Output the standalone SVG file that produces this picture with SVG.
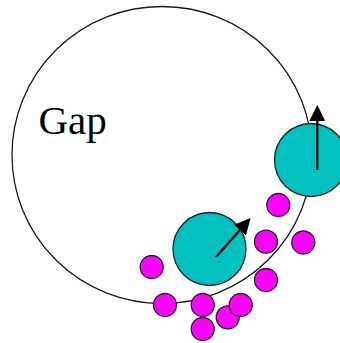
<svg xmlns="http://www.w3.org/2000/svg" width="340" height="343" viewBox="0 0 340 343">
  <style>
    .boundary { fill: none; stroke: #1a1a1a; stroke-width: 1.3; }
    .big { fill: #00C0C0; stroke: #222; stroke-width: 1.3; }
    .small { fill: #FF00FF; stroke: #222; stroke-width: 1.3; }
    .arrow { stroke: #000; stroke-width: 2.2; fill: none; marker-end: url(#head); }
    .label { font-family: "Liberation Serif", "Times New Roman", serif; font-size: 41px; fill: #000; }
  </style>
  <defs>
    <marker id="head" viewBox="0 0 16 16" markerWidth="16" markerHeight="16" refX="0" refY="8" orient="auto" markerUnits="userSpaceOnUse">
      <path d="M0,0 L16,8 L0,16 z" fill="#000"/>
    </marker>
  </defs>
  <rect width="340" height="343" fill="#fff"/>
  <g id="gap-boundary">
    <ellipse class="boundary" cx="162" cy="155" rx="150" ry="148.5"/>
    <text class="label" x="38.5" y="134">Gap</text>
  </g>
  <g id="particle-large-1"><circle class="big" cx="209.5" cy="249" r="36.5"/></g>
  <g id="particle-large-2"><circle class="big" cx="311" cy="160" r="36.5"/></g>
  <g id="particle-small-1"><circle class="small" cx="151.7" cy="267" r="11.5"/></g>
  <g id="particle-small-2"><circle class="small" cx="165" cy="305" r="11.5"/></g>
  <g id="particle-small-3"><circle class="small" cx="202.7" cy="305" r="11.5"/></g>
  <g id="particle-small-4"><circle class="small" cx="202.7" cy="329" r="11.5"/></g>
  <g id="particle-small-5"><circle class="small" cx="227.7" cy="317.3" r="11.5"/></g>
  <g id="particle-small-6"><circle class="small" cx="240.7" cy="305" r="11.5"/></g>
  <g id="particle-small-7"><circle class="small" cx="266" cy="280" r="11.5"/></g>
  <g id="particle-small-8"><circle class="small" cx="266" cy="241.7" r="11.5"/></g>
  <g id="particle-small-9"><circle class="small" cx="303.3" cy="242.5" r="11.5"/></g>
  <g id="particle-small-10"><circle class="small" cx="278.3" cy="205" r="11.5"/></g>
  <g id="connectors">
    <line class="arrow" x1="216" y1="257" x2="240" y2="230"/>
    <line class="arrow" x1="317.3" y1="170" x2="317.3" y2="121"/>
  </g>
</svg>
